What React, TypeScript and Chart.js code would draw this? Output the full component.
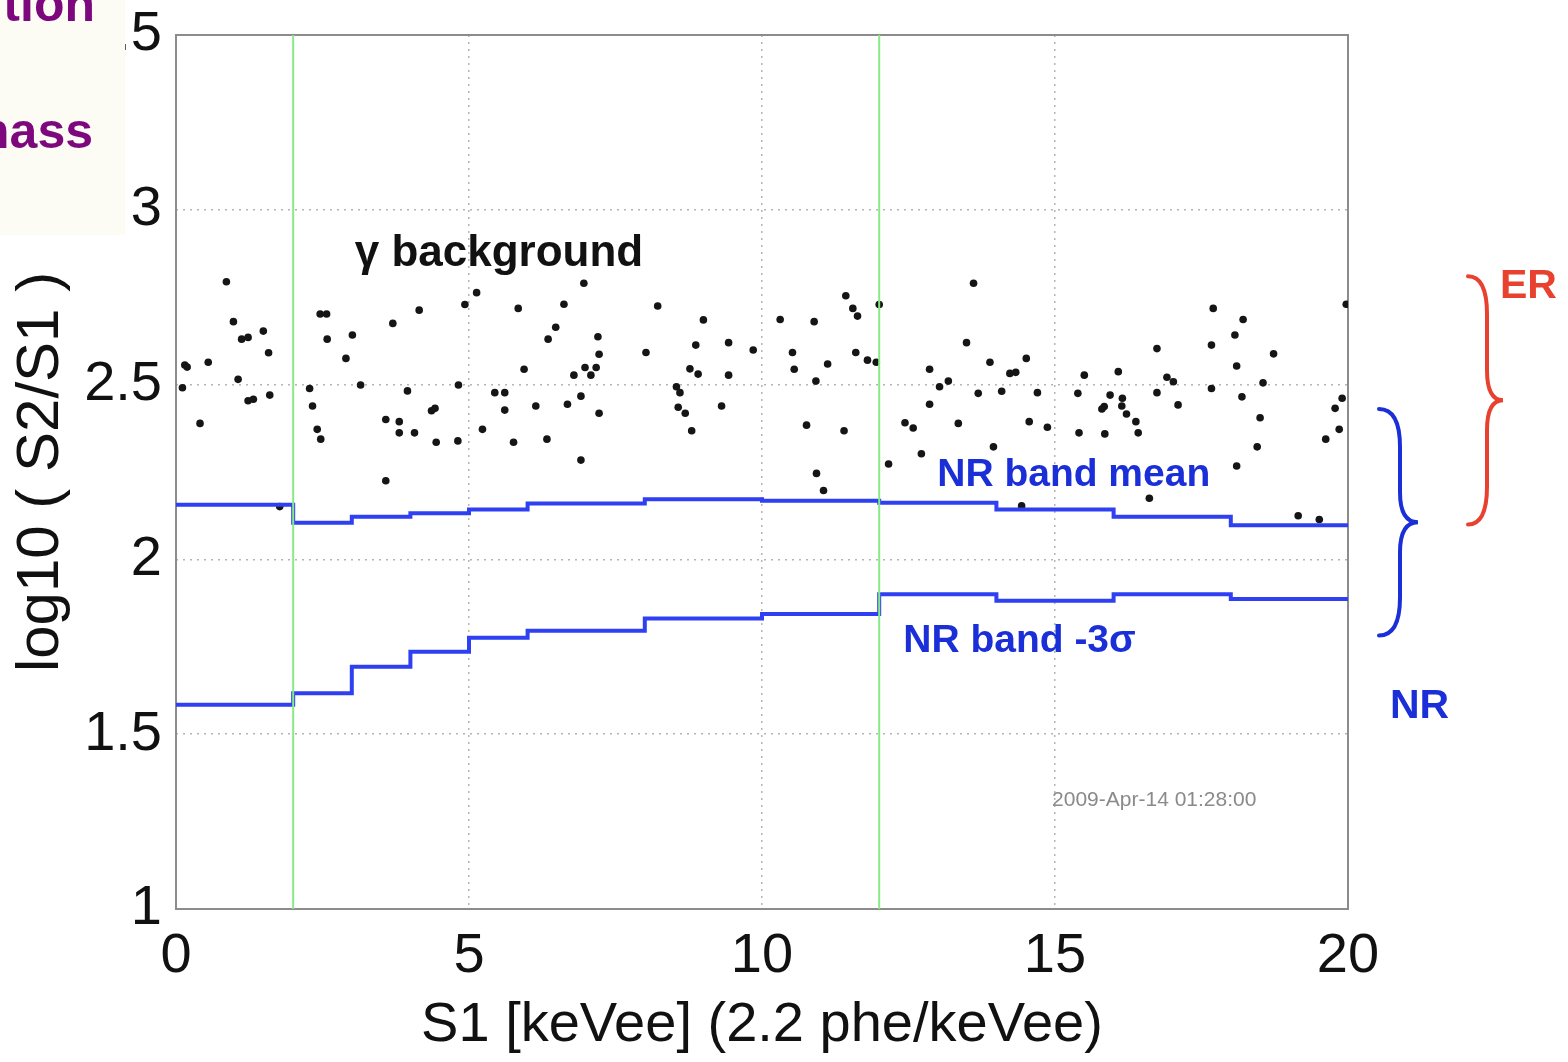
import React, { useEffect, useRef } from "react";
import { Chart, registerables } from "chart.js";

Chart.register(...registerables);

// ---- data ----
const scatterX = [
  0.15, 0.19, 0.55, 0.86, 0.98, 1.12, 1.23, 1.49, 1.58, 1.06, 0.11, 1.23, 1.32, 1.6, 0.41, 1.77,
  2.46, 2.57, 2.58, 3.01, 2.9, 2.28, 2.33, 2.41, 2.47, 3.15, 3.7, 4.15, 3.95, 3.58, 3.81, 3.81, 4.07,
  4.36, 4.42, 4.44, 3.58, 4.82, 4.81, 4.93, 5.13, 5.23, 5.44, 5.61, 5.61, 5.94, 5.76, 5.84, 6.14,
  6.33, 6.35, 6.48, 6.62, 6.68,
  6.96, 6.79, 6.98, 7.08, 7.17, 7.2, 7.22, 6.91, 7.22, 6.91, 8.22, 8.02, 8.54, 8.6, 8.57, 8.69, 8.8,
  8.77, 8.91, 8.87, 9.0, 9.43, 9.43, 9.31, 9.85, 10.31, 10.52, 10.55, 10.89, 10.92, 11.12, 10.76,
  10.93, 11.05, 11.4, 11.43, 11.55, 11.63, 11.6, 11.8, 11.95, 12.0, 12.16, 12.44, 12.58, 12.72,
  12.86, 12.86, 13.03, 13.18, 13.35,
  13.61, 13.49, 13.89, 13.69, 14.09, 14.23, 14.33, 14.51, 14.7, 14.56, 14.87, 13.95, 14.43, 15.39,
  15.5, 15.41, 15.94, 15.8, 15.84, 15.85, 16.08, 16.15, 16.14, 16.22, 16.38, 16.42, 16.61, 16.74,
  16.74, 16.91, 17.02, 17.1, 17.7, 17.67, 17.67, 18.07, 18.21, 18.1, 18.19, 18.5, 18.45, 18.1,
  18.55, 18.73, 19.15, 19.51, 19.62, 19.78, 19.85, 19.9, 19.97,
];
const scatterY = [
  2.556, 2.55, 2.564, 2.794, 2.68, 2.63, 2.635, 2.653, 2.591, 2.515, 2.491, 2.454, 2.458, 2.47, 2.389, 2.151,
  2.702, 2.702, 2.63, 2.642, 2.575, 2.489, 2.439, 2.372, 2.344, 2.499, 2.675, 2.713, 2.482, 2.4, 2.394, 2.362, 2.362,
  2.425, 2.432, 2.335, 2.225, 2.499, 2.339, 2.729, 2.763, 2.372, 2.477, 2.477, 2.427, 2.544, 2.335, 2.718, 2.439,
  2.344, 2.63, 2.664, 2.73, 2.444,
  2.79, 2.527, 2.549, 2.527, 2.549, 2.637, 2.587, 2.467, 2.418, 2.284, 2.725, 2.592, 2.494, 2.477, 2.435, 2.418, 2.368,
  2.545, 2.53, 2.613, 2.685, 2.62, 2.527, 2.439, 2.599, 2.686, 2.592, 2.544, 2.68, 2.51, 2.559, 2.384,
  2.246, 2.197, 2.368, 2.754, 2.718, 2.696, 2.592, 2.57, 2.564, 2.729, 2.273, 2.391, 2.376, 2.302,
  2.544, 2.444, 2.494, 2.51, 2.389,
  2.79, 2.62, 2.564, 2.475, 2.481, 2.532, 2.535, 2.575, 2.477, 2.394, 2.378, 2.322, 2.153, 2.475,
  2.527, 2.362, 2.47, 2.43, 2.437, 2.359, 2.537, 2.461, 2.439, 2.416, 2.394, 2.362, 2.175, 2.603,
  2.477, 2.521, 2.508, 2.442, 2.718, 2.613, 2.489, 2.642, 2.686, 2.553, 2.465, 2.405, 2.322, 2.267,
  2.505, 2.588, 2.125, 2.114, 2.344, 2.432, 2.372, 2.461, 2.73,
];

const binEdges = [0, 2, 3, 4, 5, 6, 8, 10, 12, 14, 16, 18, 20];
const meanVals = [2.156, 2.105, 2.122, 2.132, 2.143, 2.16, 2.172, 2.168, 2.162, 2.143, 2.122, 2.098];
const minus3Vals = [1.584, 1.617, 1.693, 1.736, 1.776, 1.796, 1.831, 1.844, 1.9, 1.882, 1.9, 1.887];

const cutX = [2, 12];
const xTicks = [0, 5, 10, 15, 20];
const yTicks = [1, 1.5, 2, 2.5, 3, 3.5];

const erRange = [2.1, 2.81];
const nrRange = [1.782, 2.43];

const labelTexts = ["γ background", "NR band mean", "NR band -3σ"];
const labelX = [3.05, 12.99, 12.41];
const labelY = [2.839, 2.21, 1.735];
const stampText = "2009-Apr-14 01:28:00";
const stampPos = [14.95, 1.31];

const FONT = "'Liberation Sans', Arial, Helvetica, sans-serif";
const BLUE_LINE = "#2f40f2";
const BLUE_TEXT = "#1b2fd8";
const RED = "#e8412f";

function stepPoints(edges: number[], vals: number[]) {
  const pts = vals.map((v, i) => ({ x: edges[i], y: v }));
  pts.push({ x: edges[edges.length - 1], y: vals[vals.length - 1] });
  return pts;
}

function drawBrace(ctx: CanvasRenderingContext2D, x0: number, xm: number, xt: number, yt: number, ymid: number, yb: number) {
  const rEnd = 38;
  const rMid = 30;
  ctx.beginPath();
  ctx.moveTo(x0, yt);
  ctx.quadraticCurveTo(xm, yt, xm, yt + rEnd);
  ctx.lineTo(xm, ymid - rMid);
  ctx.quadraticCurveTo(xm, ymid, xt, ymid);
  ctx.quadraticCurveTo(xm, ymid, xm, ymid + rMid);
  ctx.lineTo(xm, yb - rEnd);
  ctx.quadraticCurveTo(xm, yb, x0, yb);
  ctx.stroke();
}

const decorPlugin = {
  id: "decor",
  beforeDatasetsDraw(chart: any) {
    const { ctx, chartArea } = chart;
    ctx.save();
    ctx.strokeStyle = "#8c8c8c";
    ctx.lineWidth = 2;
    ctx.strokeRect(chartArea.left, chartArea.top, chartArea.right - chartArea.left, chartArea.bottom - chartArea.top);
    ctx.restore();
  },
  afterDatasetsDraw(chart: any) {
    const { ctx, chartArea, scales } = chart;
    const xs = scales.x;
    const ys = scales.y;
    ctx.save();
    ctx.textAlign = "left";
    ctx.textBaseline = "alphabetic";
    // in-plot labels
    labelTexts.forEach((t, i) => {
      ctx.fillStyle = i === 0 ? "#111111" : BLUE_TEXT;
      ctx.font = `bold ${i === 0 ? 44 : 39}px ${FONT}`;
      ctx.fillText(t, xs.getPixelForValue(labelX[i]), ys.getPixelForValue(labelY[i]));
    });
    // timestamp
    ctx.fillStyle = "#8a8a8a";
    ctx.font = `21px ${FONT}`;
    ctx.textBaseline = "middle";
    ctx.fillText(stampText, xs.getPixelForValue(stampPos[0]), ys.getPixelForValue(stampPos[1]));

    // braces
    const R = chartArea.right;
    ctx.lineWidth = 4;
    ctx.lineCap = "round";
    ctx.strokeStyle = RED;
    const erT = ys.getPixelForValue(erRange[1]);
    const erB = ys.getPixelForValue(erRange[0]);
    drawBrace(ctx, R + 120, R + 139, R + 155, erT, (erT + erB) / 2, erB);
    ctx.strokeStyle = BLUE_TEXT;
    const nrT = ys.getPixelForValue(nrRange[1]);
    const nrB = ys.getPixelForValue(nrRange[0]);
    drawBrace(ctx, R + 31, R + 52, R + 70, nrT, (nrT + nrB) / 2, nrB);

    ctx.textBaseline = "alphabetic";
    ctx.font = `bold 41px ${FONT}`;
    ctx.fillStyle = RED;
    ctx.fillText("ER", R + 152, ys.getPixelForValue(2.748));
    ctx.fillStyle = BLUE_TEXT;
    ctx.fillText("NR", R + 42, ys.getPixelForValue(1.546));
    ctx.restore();
  },
};

function zeroPadding(s: any) {
  s.paddingTop = 0;
  s.paddingBottom = 0;
  s.paddingLeft = 0;
  s.paddingRight = 0;
}

export default function App() {
  const canvasRef = useRef<HTMLCanvasElement | null>(null);

  useEffect(() => {
    const canvas = canvasRef.current;
    if (!canvas) return;
    Chart.defaults.font.family = FONT;
    Chart.defaults.color = "#111111";

    const points = scatterX.map((x, i) => ({ x, y: scatterY[i] }));
    const datasets: any[] = [
      ...cutX.map((cx) => ({
        type: "line",
        label: `cut ${cx}`,
        data: [
          { x: cx, y: yTicks[0] },
          { x: cx, y: yTicks[yTicks.length - 1] },
        ],
        borderColor: "#86ea86",
        borderWidth: 2,
        pointRadius: 0,
        fill: false,
      })),
      {
        type: "line",
        label: "NR band mean",
        data: stepPoints(binEdges, meanVals),
        borderColor: BLUE_LINE,
        borderWidth: 4,
        pointRadius: 0,
        stepped: "before",
        fill: false,
      },
      {
        type: "line",
        label: "NR band -3σ",
        data: stepPoints(binEdges, minus3Vals),
        borderColor: BLUE_LINE,
        borderWidth: 4,
        pointRadius: 0,
        stepped: "before",
        fill: false,
      },
      {
        type: "scatter",
        label: "γ background",
        data: points,
        pointRadius: 3.8,
        pointStyle: "circle",
        backgroundColor: "#151515",
        borderColor: "#151515",
        borderWidth: 0,
      },
    ];

    const chart = new Chart(canvas, {
      type: "scatter",
      data: { datasets },
      options: {
        animation: false,
        responsive: false,
        devicePixelRatio: 1,
        layout: { autoPadding: false, padding: { left: 0, right: 220, top: 35, bottom: 0 } },
        plugins: { legend: { display: false }, tooltip: { enabled: false } },
        scales: {
          x: {
            type: "linear",
            min: xTicks[0],
            max: xTicks[xTicks.length - 1],
            afterFit: (s: any) => {
              s.height = 153;
              zeroPadding(s);
            },
            afterBuildTicks: (s: any) => {
              s.ticks = xTicks.map((v) => ({ value: v }));
            },
            ticks: { font: { size: 56 }, padding: 14, color: "#111", maxRotation: 0, autoSkip: false },
            grid: { color: "#b4b4b4", lineWidth: 1.5, drawTicks: false },
            border: { display: false, dash: [2, 5] },
            title: {
              display: true,
              text: "S1 [keVee] (2.2 phe/keVee)",
              font: { size: 56 },
              color: "#111",
              padding: { top: 0, bottom: 3 },
            },
          },
          y: {
            type: "linear",
            min: yTicks[0],
            max: yTicks[yTicks.length - 1],
            afterFit: (s: any) => {
              s.width = 176;
              zeroPadding(s);
            },
            afterBuildTicks: (s: any) => {
              s.ticks = yTicks.map((v) => ({ value: v }));
            },
            ticks: {
              font: { size: 56 },
              padding: 14,
              color: "#111",
              autoSkip: false,
              callback: (v: any) => String(Number(v)),
            },
            grid: { color: "#b4b4b4", lineWidth: 1.5, drawTicks: false },
            border: { display: false, dash: [2, 5] },
            title: {
              display: true,
              text: "log10 ( S2/S1 )",
              font: { size: 60 },
              color: "#111",
              padding: { top: 5, bottom: 0 },
            },
          },
        },
      },
      plugins: [decorPlugin],
    } as any);

    return () => chart.destroy();
  }, []);

  return (
    <div style={{ position: "fixed", left: 0, top: 0, width: 1568, height: 1062, background: "#ffffff" }}>
      <canvas ref={canvasRef} width={1568} height={1062} style={{ display: "block" }} />
      <div
        style={{
          position: "absolute",
          left: 0,
          top: 0,
          width: 125,
          height: 235,
          background: "#fcfcf4",
          overflow: "hidden",
          fontFamily: FONT,
          fontWeight: "bold",
          fontSize: 50,
          lineHeight: "50px",
          color: "#7d087d",
        }}
      >
        <span style={{ position: "absolute", right: 30, top: -21, whiteSpace: "nowrap" }}>tion</span>
        <span style={{ position: "absolute", right: 32, top: 106, whiteSpace: "nowrap" }}>mass</span>
      </div>
    </div>
  );
}
